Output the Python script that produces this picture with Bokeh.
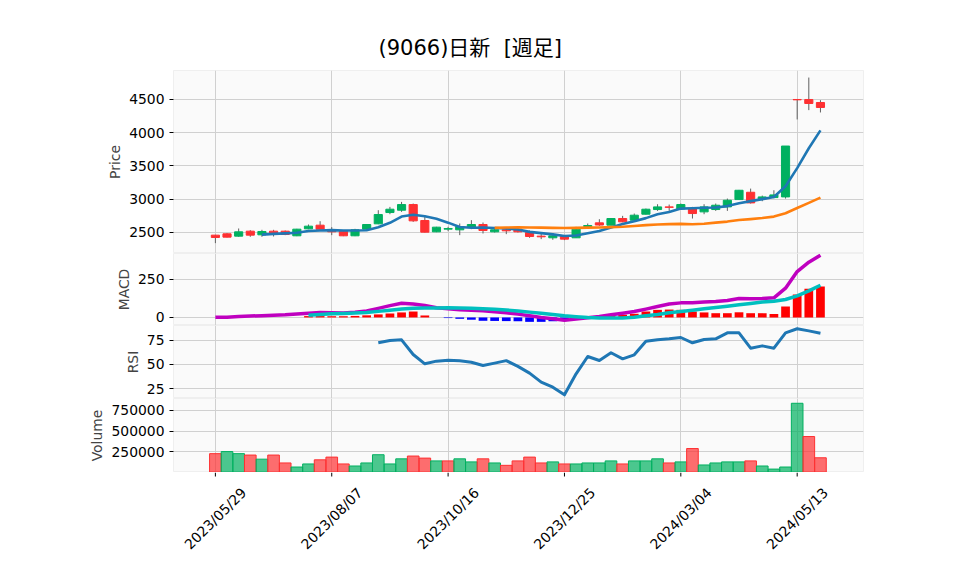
from math import pi
from bokeh.plotting import figure
from bokeh.layouts import column
from bokeh.models import ColumnDataSource, Range1d, FixedTicker, Title, BasicTickFormatter
from bokeh.core.properties import value
from bokeh.embed import file_html
from bokeh.resources import INLINE

nan = float("nan")

# ---------------- data (weekly, 2023/05/29 .. 2024/05/27) ----------------
tick_idx = [0, 10, 20, 30, 40, 50]
tick_labels = ["2023/05/29", "2023/08/07", "2023/10/16", "2023/12/25", "2024/03/04", "2024/05/13"]

opens = [2460, 2480, 2445, 2520, 2465, 2520, 2520, 2450, 2555, 2610, 2540, 2520, 2450, 2550, 2630,
         2800, 2835, 2920, 2680, 2510, 2550, 2540, 2575, 2620, 2510, 2540, 2550, 2500, 2445, 2420,
         2440, 2420, 2590, 2645, 2610, 2710, 2685, 2775, 2845, 2885, 2855, 2860, 2810, 2845, 2885,
         2995, 3105, 3005, 3025, 3035, 4500, 4500, 4455]
highs = [2465, 2490, 2560, 2535, 2540, 2540, 2530, 2555, 2620, 2670, 2580, 2525, 2555, 2625, 2835,
         2885, 2960, 2935, 2735, 2585, 2585, 2635, 2685, 2650, 2570, 2570, 2580, 2530, 2480, 2485,
         2460, 2585, 2635, 2700, 2715, 2750, 2785, 2860, 2925, 2920, 2935, 2885, 2925, 2935, 3010,
         3140, 3160, 3055, 3135, 3800, 4505, 4830, 4490]
lows = [2340, 2425, 2435, 2435, 2435, 2440, 2460, 2445, 2550, 2545, 2460, 2445, 2445, 2545, 2625,
        2775, 2810, 2660, 2500, 2505, 2520, 2460, 2550, 2485, 2500, 2475, 2500, 2420, 2400, 2390,
        2385, 2420, 2560, 2600, 2605, 2655, 2675, 2770, 2825, 2825, 2845, 2710, 2775, 2825, 2825,
        2990, 2935, 2970, 3015, 3010, 4200, 4340, 4305]
closes = [2425, 2430, 2510, 2460, 2515, 2480, 2470, 2550, 2595, 2550, 2510, 2450, 2540, 2620, 2770,
          2850, 2920, 2675, 2505, 2580, 2560, 2590, 2620, 2530, 2540, 2525, 2510, 2440, 2435, 2450,
          2400, 2550, 2605, 2612, 2710, 2660, 2760, 2850, 2885, 2878, 2920, 2785, 2885, 2910, 2985,
          3135, 2945, 3035, 3065, 3800, 4495, 4440, 4380]
volumes = [225000, 250000, 225000, 208000, 158000, 208000, 112000, 62500, 100000, 150000, 183000,
           100000, 75000, 112000, 212000, 100000, 162000, 196000, 171000, 137000, 137000, 162000,
           125000, 162000, 112000, 83000, 137000, 183000, 112000, 125000, 100000, 100000, 112000,
           112000, 137000, 100000, 137000, 137000, 162000, 112000, 125000, 287000, 87500, 112000,
           125000, 125000, 137000, 75000, 37500, 62500, 837000, 433000, 175000]

ma_short = [nan, nan, nan, nan, 2468, 2479, 2487, 2495, 2522, 2529, 2535, 2531, 2529, 2534, 2578,
            2646, 2740, 2767, 2744, 2706, 2648, 2582, 2571, 2576, 2568, 2561, 2545, 2509, 2490, 2472,
            2447, 2455, 2489, 2523, 2575, 2627, 2669, 2716, 2773, 2807, 2859, 2864, 2871, 2876, 2897,
            2940, 2972, 3002, 3033, 3196, 3468, 3767, 4036]
ma_long = [nan] * 24 + [2570, 2574, 2577, 2574, 2573, 2570, 2567, 2570, 2573, 2574, 2580, 2586, 2598,
                        2611, 2621, 2626, 2629, 2623, 2632, 2648, 2664, 2687, 2701, 2718, 2739, 2790,
                        2868, 2946, 3024]

macd = [2, 2, 7, 9, 12, 14, 17, 22, 28, 32, 31, 30, 34, 43, 60, 78, 93, 88, 79, 64, 57, 50, 48, 44,
        37, 31, 22, 11, 0, -9, -18, -11, -2, 7, 18, 28, 39, 55, 72, 88, 96, 96, 101, 105, 112, 125,
        123, 125, 129, 193, 302, 364, 410]
signal = [nan] * 8 + [15, 20, 24, 26, 29, 33, 40, 47, 55, 60, 62, 63, 64, 63, 61, 58, 54, 49, 43, 35,
                      27, 19, 11, 5, 0, -3, -4, -3, 1, 11, 20, 31, 39, 48, 57, 66, 74, 83, 92, 101,
                      107, 118, 142, 175, 212]
hist = [nan] * 8 + [9, 9, 8, 8, 10, 14, 20, 26, 33, 39, 13, 0, -4, -9, -15, -22, -23, -24, -25, -29,
                    -29, -25, -20, -13, -5, 5, 13, 18, 24, 39, 50, 52, 50, 39, 33, 28, 28, 34, 28, 28,
                    22, 72, 151, 189, 204]
rsi = [nan] * 14 + [72.6, 75.0, 75.7, 60.4, 50.7, 53.5, 54.5, 53.8, 52.4, 49.0, 51.4, 54.0, 48.0, 41.0,
                    31.6, 26.4, 18.4, 40.3, 58.3, 54.2, 62.2, 55.9, 60.1, 74.3, 75.7, 76.7, 78.1, 72.6,
                    76.0, 76.7, 83.0, 83.0, 67.0, 69.4, 67.0, 83.0, 87.2, 85.0, 82.6]

# ---------------- styling ----------------
FONT = "DejaVu Sans"
BG = "#fafafa"
GRID = "#d0d0d0"
UP = "#00b060"
DOWN = "#fe3032"
WICK = "#606060"
W = 950
LEFT = 173
RIGHT = 87

idx = list(range(len(closes)))
candle_col = [UP if c >= o else DOWN for o, c in zip(opens, closes)]
vol_col = [(UP if closes[i] >= (closes[i - 1] if i > 0 else opens[i]) else DOWN) for i in idx]
hist_col = [("#ff0000" if (h == h and h >= 0) else "#0000ff") for h in hist]

xr = Range1d(-3.6, 55.7)


def make(height, yr, yticks, label, top=0):
    p = figure(width=W, height=height, x_range=xr, y_range=yr,
               min_border_left=LEFT, min_border_right=RIGHT,
               min_border_top=top, min_border_bottom=0,
               x_axis_location=None,
               output_backend="svg", toolbar_location=None)
    p.background_fill_color = BG
    p.border_fill_color = "white"
    p.outline_line_color = "#efefef"
    p.xgrid.ticker = FixedTicker(ticks=tick_idx)
    p.ygrid.ticker = FixedTicker(ticks=yticks)
    p.xgrid.grid_line_color = GRID
    p.ygrid.grid_line_color = GRID
    ax = p.yaxis[0]
    ax.ticker = FixedTicker(ticks=yticks)
    ax.formatter = BasicTickFormatter(use_scientific=False)
    ax.axis_label = label
    ax.axis_label_text_font = FONT
    ax.axis_label_text_font_size = "13.9px"
    ax.axis_label_text_font_style = "normal"
    ax.axis_label_standoff = 3
    ax.major_label_text_font = FONT
    ax.major_label_text_font_size = "13.9px"
    ax.major_label_text_color = "#000000"
    ax.axis_line_color = None
    ax.major_tick_line_color = "#000000"
    ax.major_tick_out = 4
    ax.major_tick_in = 0
    ax.minor_tick_line_color = None
    ax.major_label_standoff = 5
    return p


# ---- price panel
p1 = make(253, Range1d(2184, 4936), [2500, 3000, 3500, 4000, 4500], "Price", top=70)
t = Title(text="(9066)日新 \u00a0[週足]", align="left", offset=205,
          text_font="DejaVu Sans, 'Noto Sans CJK JP'", text_font_size="21px",
          text_font_style="normal", text_color="#000000", standoff=22)
p1.add_layout(t, "above")

src = ColumnDataSource(dict(x=idx, o=opens, h=highs, l=lows, c=closes,
                            top=[max(a, b) for a, b in zip(opens, closes)],
                            bot=[min(a, b) for a, b in zip(opens, closes)],
                            col=candle_col, vcol=vol_col, v=volumes,
                            ms=ma_short, ml=ma_long, macd=macd, sig=signal,
                            hist=hist, hcol=hist_col, rsi=rsi))
p1.segment(x0="x", y0="l", x1="x", y1="h", source=src, line_color=WICK, line_width=1)
p1.vbar(x="x", top="top", bottom="bot", width=0.7, source=src,
        fill_color="col", line_color="col", line_width=1)
p1.line(x="x", y="ms", source=src, line_color="#1f77b4", line_width=2.6, line_join="round")
p1.line(x="x", y="ml", source=src, line_color="#ff7f0e", line_width=2.6, line_join="round")

# ---- MACD panel
p2 = make(72, Range1d(-53, 421), [0, 250], "MACD")
p2.vbar(x="x", top="hist", bottom=0, width=0.75, source=src,
        fill_color="hcol", line_color=None)
p2.line(x="x", y="macd", source=src, line_color="#bf00bf", line_width=3.5, line_join="round")
p2.line(x="x", y="sig", source=src, line_color="#00bfbf", line_width=3.5, line_join="round")

# ---- RSI panel
p3 = make(73, Range1d(14.6, 90.6), [25, 50, 75], "RSI")
p3.line(x="x", y="rsi", source=src, line_color="#1f77b4", line_width=3, line_join="round")

# ---- Volume panel
p4 = make(74, Range1d(-4000, 895000), [250000, 500000, 750000], "Volume")
p4.vbar(x="x", top="v", bottom=0, width=1.0, source=src,
        fill_color="vcol", fill_alpha=0.7, line_color="vcol", line_width=1)

# ---- date axis strip (pixel-unit y range): ticks + rotated labels centred on ticks
AX_H = 86
p5 = figure(width=W, height=AX_H, x_range=xr, y_range=Range1d(0, AX_H),
            min_border_left=LEFT, min_border_right=RIGHT, min_border_top=0, min_border_bottom=0,
            x_axis_location=None, y_axis_location=None,
            output_backend="svg", toolbar_location=None)
p5.background_fill_color = "white"
p5.border_fill_color = "white"
p5.outline_line_color = None
p5.xgrid.grid_line_color = None
p5.ygrid.grid_line_color = None
axis_src = ColumnDataSource(dict(x=tick_idx, lab=tick_labels,
                                 y0=[AX_H] * len(tick_idx), y1=[AX_H - 4] * len(tick_idx),
                                 ylab=[AX_H - 46] * len(tick_idx)))
p5.segment(x0="x", y0="y0", x1="x", y1="y1", source=axis_src, line_color="#000000", line_width=1)
p5.text(x="x", y="ylab", text="lab", source=axis_src, angle=pi / 4,
        text_align="center", text_baseline="middle",
        text_font=value(FONT), text_font_size="13.9px", text_color="#000000")

layout = column(p1, p2, p3, p4, p5, spacing=0)
open("out.html", "w").write(file_html(layout, INLINE))
